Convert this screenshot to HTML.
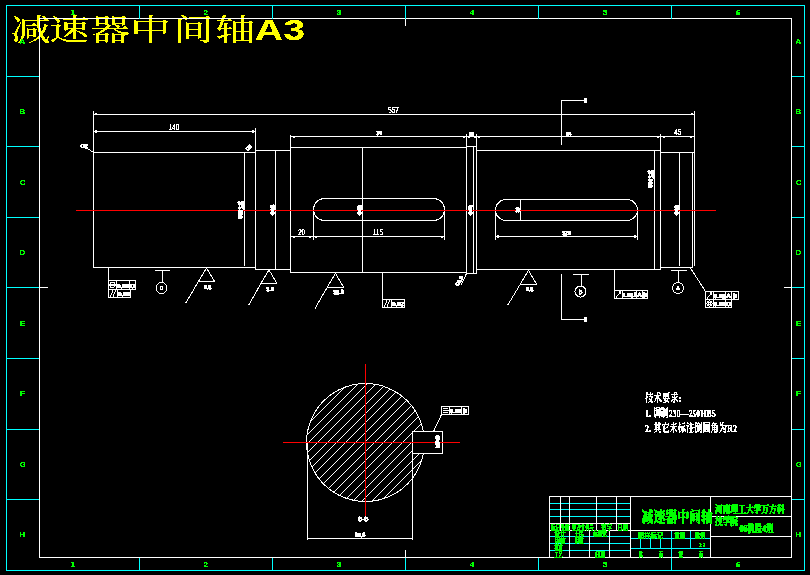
<!DOCTYPE html>
<html lang="zh"><head><meta charset="utf-8"><title>减速器中间轴A3</title>
<style>html,body{margin:0;padding:0;background:#000;width:810px;height:575px;overflow:hidden}svg{display:block}text{white-space:pre}</style>
</head><body>
<svg width="810" height="575" viewBox="0 0 810 575" shape-rendering="crispEdges">
<defs><filter id="crisp" x="-20%" y="-20%" width="140%" height="140%" color-interpolation-filters="sRGB"><feComponentTransfer><feFuncA type="discrete" tableValues="0 0 0 1 1 1 1 1 1 1"/></feComponentTransfer></filter><filter id="crisp5" x="-5%" y="-20%" width="110%" height="140%" color-interpolation-filters="sRGB"><feComponentTransfer><feFuncA type="discrete" tableValues="0 1"/></feComponentTransfer></filter></defs>
<rect width="810" height="575" fill="#000"/>
<g transform="translate(12,39.7) scale(1.335,1)"><text filter="url(#crisp5)" x="13.93 42.85 73.63 103.75 135.96 167.34" y="0" font-size="30" fill="#ffff00" text-anchor="middle" font-weight="500" font-family='"Liberation Serif","Noto Serif CJK SC",serif'>减速器中间轴</text></g>
<g transform="translate(254.8,40) scale(1.30,1)"><text filter="url(#crisp5)" x="0" y="0" font-size="30.3" fill="#ffff00" font-weight="bold" font-family='"Liberation Sans","Noto Sans CJK SC",sans-serif'>A3</text></g>
<rect x="39" y="18" width="753" height="1" fill="#fff"/>
<rect x="39" y="557" width="753" height="1" fill="#fff"/>
<rect x="39" y="18" width="1" height="540" fill="#fff"/>
<rect x="791" y="18" width="1" height="540" fill="#fff"/>
<rect x="405" y="18" width="1" height="8" fill="#fff"/>
<rect x="405" y="550" width="1" height="8" fill="#fff"/>
<rect x="39" y="287" width="9" height="1" fill="#fff"/>
<rect x="784" y="287" width="8" height="1" fill="#fff"/>
<rect x="6" y="5" width="799" height="1" fill="#00ffff"/>
<rect x="6" y="570" width="799" height="1" fill="#00ffff"/>
<rect x="6" y="5" width="1" height="566" fill="#00ffff"/>
<rect x="804" y="5" width="1" height="566" fill="#00ffff"/>
<rect x="139" y="5" width="1" height="14" fill="#00ffff"/>
<rect x="139" y="558" width="1" height="13" fill="#00ffff"/>
<rect x="272" y="5" width="1" height="14" fill="#00ffff"/>
<rect x="272" y="558" width="1" height="13" fill="#00ffff"/>
<rect x="405" y="5" width="1" height="14" fill="#00ffff"/>
<rect x="405" y="558" width="1" height="13" fill="#00ffff"/>
<rect x="538" y="5" width="1" height="14" fill="#00ffff"/>
<rect x="538" y="558" width="1" height="13" fill="#00ffff"/>
<rect x="671" y="5" width="1" height="14" fill="#00ffff"/>
<rect x="671" y="558" width="1" height="13" fill="#00ffff"/>
<rect x="6" y="76" width="33" height="1" fill="#00ffff"/>
<rect x="792" y="76" width="13" height="1" fill="#00ffff"/>
<rect x="6" y="146" width="33" height="1" fill="#00ffff"/>
<rect x="792" y="146" width="13" height="1" fill="#00ffff"/>
<rect x="6" y="217" width="33" height="1" fill="#00ffff"/>
<rect x="792" y="217" width="13" height="1" fill="#00ffff"/>
<rect x="6" y="287" width="33" height="1" fill="#00ffff"/>
<rect x="792" y="287" width="13" height="1" fill="#00ffff"/>
<rect x="6" y="358" width="33" height="1" fill="#00ffff"/>
<rect x="792" y="358" width="13" height="1" fill="#00ffff"/>
<rect x="6" y="429" width="33" height="1" fill="#00ffff"/>
<rect x="792" y="429" width="13" height="1" fill="#00ffff"/>
<rect x="6" y="499" width="33" height="1" fill="#00ffff"/>
<rect x="792" y="499" width="13" height="1" fill="#00ffff"/>
<text filter="url(#crisp)" x="73" y="14.8" font-size="8" fill="#00ff00" text-anchor="middle" font-family='"Liberation Sans","Noto Sans CJK SC",sans-serif' font-weight="bold">1</text>
<text filter="url(#crisp)" x="73" y="566.6" font-size="8" fill="#00ff00" text-anchor="middle" font-family='"Liberation Sans","Noto Sans CJK SC",sans-serif' font-weight="bold">1</text>
<text filter="url(#crisp)" x="206" y="14.8" font-size="8" fill="#00ff00" text-anchor="middle" font-family='"Liberation Sans","Noto Sans CJK SC",sans-serif' font-weight="bold">2</text>
<text filter="url(#crisp)" x="206" y="566.6" font-size="8" fill="#00ff00" text-anchor="middle" font-family='"Liberation Sans","Noto Sans CJK SC",sans-serif' font-weight="bold">2</text>
<text filter="url(#crisp)" x="339" y="14.8" font-size="8" fill="#00ff00" text-anchor="middle" font-family='"Liberation Sans","Noto Sans CJK SC",sans-serif' font-weight="bold">3</text>
<text filter="url(#crisp)" x="339" y="566.6" font-size="8" fill="#00ff00" text-anchor="middle" font-family='"Liberation Sans","Noto Sans CJK SC",sans-serif' font-weight="bold">3</text>
<text filter="url(#crisp)" x="472" y="14.8" font-size="8" fill="#00ff00" text-anchor="middle" font-family='"Liberation Sans","Noto Sans CJK SC",sans-serif' font-weight="bold">4</text>
<text filter="url(#crisp)" x="472" y="566.6" font-size="8" fill="#00ff00" text-anchor="middle" font-family='"Liberation Sans","Noto Sans CJK SC",sans-serif' font-weight="bold">4</text>
<text filter="url(#crisp)" x="605" y="14.8" font-size="8" fill="#00ff00" text-anchor="middle" font-family='"Liberation Sans","Noto Sans CJK SC",sans-serif' font-weight="bold">5</text>
<text filter="url(#crisp)" x="605" y="566.6" font-size="8" fill="#00ff00" text-anchor="middle" font-family='"Liberation Sans","Noto Sans CJK SC",sans-serif' font-weight="bold">5</text>
<text filter="url(#crisp)" x="738" y="14.8" font-size="8" fill="#00ff00" text-anchor="middle" font-family='"Liberation Sans","Noto Sans CJK SC",sans-serif' font-weight="bold">6</text>
<text filter="url(#crisp)" x="738" y="566.6" font-size="8" fill="#00ff00" text-anchor="middle" font-family='"Liberation Sans","Noto Sans CJK SC",sans-serif' font-weight="bold">6</text>
<text filter="url(#crisp)" x="22.5" y="43.5" font-size="8" fill="#00ff00" text-anchor="middle" font-family='"Liberation Sans","Noto Sans CJK SC",sans-serif' font-weight="bold">A</text>
<text filter="url(#crisp)" x="798.5" y="43.5" font-size="8" fill="#00ff00" text-anchor="middle" font-family='"Liberation Sans","Noto Sans CJK SC",sans-serif' font-weight="bold">A</text>
<text filter="url(#crisp)" x="22.5" y="114.07" font-size="8" fill="#00ff00" text-anchor="middle" font-family='"Liberation Sans","Noto Sans CJK SC",sans-serif' font-weight="bold">B</text>
<text filter="url(#crisp)" x="798.5" y="114.07" font-size="8" fill="#00ff00" text-anchor="middle" font-family='"Liberation Sans","Noto Sans CJK SC",sans-serif' font-weight="bold">B</text>
<text filter="url(#crisp)" x="22.5" y="184.64" font-size="8" fill="#00ff00" text-anchor="middle" font-family='"Liberation Sans","Noto Sans CJK SC",sans-serif' font-weight="bold">C</text>
<text filter="url(#crisp)" x="798.5" y="184.64" font-size="8" fill="#00ff00" text-anchor="middle" font-family='"Liberation Sans","Noto Sans CJK SC",sans-serif' font-weight="bold">C</text>
<text filter="url(#crisp)" x="22.5" y="255.21" font-size="8" fill="#00ff00" text-anchor="middle" font-family='"Liberation Sans","Noto Sans CJK SC",sans-serif' font-weight="bold">D</text>
<text filter="url(#crisp)" x="798.5" y="255.21" font-size="8" fill="#00ff00" text-anchor="middle" font-family='"Liberation Sans","Noto Sans CJK SC",sans-serif' font-weight="bold">D</text>
<text filter="url(#crisp)" x="22.5" y="325.78" font-size="8" fill="#00ff00" text-anchor="middle" font-family='"Liberation Sans","Noto Sans CJK SC",sans-serif' font-weight="bold">E</text>
<text filter="url(#crisp)" x="798.5" y="325.78" font-size="8" fill="#00ff00" text-anchor="middle" font-family='"Liberation Sans","Noto Sans CJK SC",sans-serif' font-weight="bold">E</text>
<text filter="url(#crisp)" x="22.5" y="396.35" font-size="8" fill="#00ff00" text-anchor="middle" font-family='"Liberation Sans","Noto Sans CJK SC",sans-serif' font-weight="bold">F</text>
<text filter="url(#crisp)" x="798.5" y="396.35" font-size="8" fill="#00ff00" text-anchor="middle" font-family='"Liberation Sans","Noto Sans CJK SC",sans-serif' font-weight="bold">F</text>
<text filter="url(#crisp)" x="22.5" y="466.92" font-size="8" fill="#00ff00" text-anchor="middle" font-family='"Liberation Sans","Noto Sans CJK SC",sans-serif' font-weight="bold">G</text>
<text filter="url(#crisp)" x="798.5" y="466.92" font-size="8" fill="#00ff00" text-anchor="middle" font-family='"Liberation Sans","Noto Sans CJK SC",sans-serif' font-weight="bold">G</text>
<text filter="url(#crisp)" x="22.5" y="537.49" font-size="8" fill="#00ff00" text-anchor="middle" font-family='"Liberation Sans","Noto Sans CJK SC",sans-serif' font-weight="bold">H</text>
<text filter="url(#crisp)" x="798.5" y="537.49" font-size="8" fill="#00ff00" text-anchor="middle" font-family='"Liberation Sans","Noto Sans CJK SC",sans-serif' font-weight="bold">H</text>
<rect x="93" y="152" width="163" height="1" fill="#fff"/>
<rect x="93" y="267" width="163" height="1" fill="#fff"/>
<rect x="93" y="111" width="1" height="157" fill="#fff"/>
<rect x="255" y="128" width="1" height="142" fill="#fff"/>
<rect x="255" y="150" width="36" height="1" fill="#fff"/>
<rect x="255" y="269" width="36" height="1" fill="#fff"/>
<rect x="290" y="135" width="1" height="138" fill="#fff"/>
<rect x="290" y="147" width="177" height="1" fill="#fff"/>
<rect x="290" y="272" width="177" height="1" fill="#fff"/>
<rect x="466" y="134" width="1" height="140" fill="#fff"/>
<rect x="473" y="146" width="1" height="128" fill="#fff"/>
<rect x="476" y="134" width="1" height="140" fill="#fff"/>
<rect x="466" y="146" width="11" height="1" fill="#fff"/>
<rect x="466" y="273" width="11" height="1" fill="#fff"/>
<rect x="476" y="150" width="185" height="1" fill="#fff"/>
<rect x="476" y="269" width="185" height="1" fill="#fff"/>
<rect x="660" y="134" width="1" height="136" fill="#fff"/>
<rect x="660" y="152" width="35" height="1" fill="#fff"/>
<rect x="660" y="267" width="33" height="1" fill="#fff"/>
<rect x="694" y="111" width="1" height="155" fill="#fff"/>
<rect x="692" y="152" width="1" height="116" fill="#fff"/>
<rect x="244" y="153" width="1" height="113" fill="#fff"/>
<rect x="275" y="150" width="1" height="120" fill="#fff"/>
<rect x="362" y="147" width="1" height="126" fill="#fff"/>
<rect x="654" y="150" width="1" height="120" fill="#fff"/>
<rect x="679" y="153" width="1" height="113" fill="#fff"/>
<rect x="93" y="114" width="602" height="1" fill="#fff"/>
<rect x="93" y="131" width="163" height="1" fill="#fff"/>
<rect x="290" y="136" width="405" height="1" fill="#fff"/>
<path d="M324.5 198.5 H433.5 A11 11 0 0 1 433.5 220.5 H324.5 A11 11 0 0 1 324.5 198.5 Z" fill="none" stroke="#fff" stroke-width="1" shape-rendering="crispEdges"/>
<path d="M506 199.5 H627 A10.5 10.5 0 0 1 627 220.5 H506 A10.5 10.5 0 0 1 506 199.5 Z" fill="none" stroke="#fff" stroke-width="1" shape-rendering="crispEdges"/>
<rect x="313" y="210" width="1" height="30" fill="#fff"/>
<rect x="444" y="210" width="1" height="30" fill="#fff"/>
<rect x="290" y="236" width="155" height="1" fill="#fff"/>
<rect x="495" y="210" width="1" height="30" fill="#fff"/>
<rect x="637" y="210" width="1" height="30" fill="#fff"/>
<rect x="495" y="236" width="143" height="1" fill="#fff"/>
<rect x="520" y="199" width="1" height="22" fill="#fff"/>
<rect x="95" y="130" width="2" height="3" fill="#fff"/>
<rect x="252" y="130" width="2" height="3" fill="#fff"/>
<rect x="95" y="113" width="2" height="1" fill="#fff"/>
<rect x="691" y="113" width="2" height="1" fill="#fff"/>
<rect x="293" y="137" width="2" height="1" fill="#fff"/>
<rect x="463" y="137" width="2" height="1" fill="#fff"/>
<rect x="468" y="137" width="2" height="1" fill="#fff"/>
<rect x="474" y="137" width="2" height="1" fill="#fff"/>
<rect x="478" y="137" width="2" height="1" fill="#fff"/>
<rect x="657" y="137" width="2" height="1" fill="#fff"/>
<rect x="663" y="137" width="2" height="1" fill="#fff"/>
<rect x="690" y="137" width="2" height="1" fill="#fff"/>
<rect x="293" y="237" width="2" height="1" fill="#fff"/>
<rect x="309" y="237" width="2" height="1" fill="#fff"/>
<rect x="315" y="237" width="2" height="1" fill="#fff"/>
<rect x="441" y="237" width="2" height="1" fill="#fff"/>
<rect x="497" y="235" width="2" height="3" fill="#fff"/>
<rect x="634" y="235" width="2" height="3" fill="#fff"/>
<rect x="76" y="210" width="640" height="1" fill="#ff0000"/>
<text filter="url(#crisp)" x="174" y="130" font-size="8.8" fill="#fff" text-anchor="middle" font-family='"Liberation Sans","Noto Sans CJK SC",sans-serif' font-weight="normal" textLength="10.2" lengthAdjust="spacingAndGlyphs">140</text>
<text filter="url(#crisp)" x="393.5" y="113" font-size="8.8" fill="#fff" text-anchor="middle" font-family='"Liberation Sans","Noto Sans CJK SC",sans-serif' font-weight="normal" textLength="10.5" lengthAdjust="spacingAndGlyphs">557</text>
<text filter="url(#crisp)" x="677.8" y="135" font-size="8.8" fill="#fff" text-anchor="middle" font-family='"Liberation Sans","Noto Sans CJK SC",sans-serif' font-weight="normal" textLength="7.2" lengthAdjust="spacingAndGlyphs">45</text>
<text filter="url(#crisp)" x="301.6" y="235.2" font-size="8.3" fill="#fff" text-anchor="middle" font-family='"Liberation Sans","Noto Sans CJK SC",sans-serif' font-weight="normal" textLength="7.2" lengthAdjust="spacingAndGlyphs">20</text>
<text filter="url(#crisp)" x="378" y="235.2" font-size="8.3" fill="#fff" text-anchor="middle" font-family='"Liberation Sans","Noto Sans CJK SC",sans-serif' font-weight="normal" textLength="10.2" lengthAdjust="spacingAndGlyphs">115</text>
<text filter="url(#crisp)" x="566.5" y="234.5" font-size="5" fill="#fff" text-anchor="middle" font-family='"Liberation Sans","Noto Sans CJK SC",sans-serif' font-weight="bold" stroke="#fff" stroke-width="0.3">120</text>
<text filter="url(#crisp)" x="379" y="135" font-size="5" fill="#fff" text-anchor="middle" font-family='"Liberation Sans","Noto Sans CJK SC",sans-serif' font-weight="bold" textLength="5.5" lengthAdjust="spacingAndGlyphs" stroke="#fff" stroke-width="0.3">176</text>
<text filter="url(#crisp)" x="568.5" y="135.8" font-size="5" fill="#fff" text-anchor="middle" font-family='"Liberation Sans","Noto Sans CJK SC",sans-serif' font-weight="bold" textLength="5.5" lengthAdjust="spacingAndGlyphs" stroke="#fff" stroke-width="0.3">184</text>
<text filter="url(#crisp)" x="471.5" y="135.5" font-size="5" fill="#fff" text-anchor="middle" font-family='"Liberation Sans","Noto Sans CJK SC",sans-serif' font-weight="bold" stroke="#fff" stroke-width="0.3">10</text>
<text filter="url(#crisp)" x="243" y="219" font-size="6.5" fill="#fff" text-anchor="start" font-family='"Liberation Sans","Noto Sans CJK SC",sans-serif' font-weight="bold" transform="rotate(-90 243 219)" textLength="9" lengthAdjust="spacingAndGlyphs" stroke="#fff" stroke-width="0.15">Φ55</text>
<text filter="url(#crisp)" x="240" y="209.5" font-size="4.2" fill="#fff" text-anchor="start" font-family='"Liberation Sans","Noto Sans CJK SC",sans-serif' font-weight="bold" transform="rotate(-90 240 209.5)" textLength="8.5" lengthAdjust="spacingAndGlyphs" stroke="#fff" stroke-width="0.1">+0.021</text>
<text filter="url(#crisp)" x="243.6" y="209.5" font-size="4.2" fill="#fff" text-anchor="start" font-family='"Liberation Sans","Noto Sans CJK SC",sans-serif' font-weight="bold" transform="rotate(-90 243.6 209.5)" textLength="8.5" lengthAdjust="spacingAndGlyphs" stroke="#fff" stroke-width="0.1">+0.002</text>
<text filter="url(#crisp)" x="274.5" y="210" font-size="5.5" fill="#fff" text-anchor="middle" font-family='"Liberation Sans","Noto Sans CJK SC",sans-serif' font-weight="bold" transform="rotate(-90 274.5 210)" stroke="#fff" stroke-width="0.15">Φ58</text>
<text filter="url(#crisp)" x="361.5" y="210" font-size="5.5" fill="#fff" text-anchor="middle" font-family='"Liberation Sans","Noto Sans CJK SC",sans-serif' font-weight="bold" transform="rotate(-90 361.5 210)" stroke="#fff" stroke-width="0.15">Φ65</text>
<text filter="url(#crisp)" x="472.5" y="210" font-size="5.5" fill="#fff" text-anchor="middle" font-family='"Liberation Sans","Noto Sans CJK SC",sans-serif' font-weight="bold" transform="rotate(-90 472.5 210)" stroke="#fff" stroke-width="0.15">Φ75</text>
<text filter="url(#crisp)" x="519.5" y="210" font-size="5.5" fill="#fff" text-anchor="middle" font-family='"Liberation Sans","Noto Sans CJK SC",sans-serif' font-weight="bold" transform="rotate(-90 519.5 210)" stroke="#fff" stroke-width="0.15">18</text>
<text filter="url(#crisp)" x="653" y="188" font-size="6.5" fill="#fff" text-anchor="start" font-family='"Liberation Sans","Noto Sans CJK SC",sans-serif' font-weight="bold" transform="rotate(-90 653 188)" textLength="9" lengthAdjust="spacingAndGlyphs" stroke="#fff" stroke-width="0.15">Φ60</text>
<text filter="url(#crisp)" x="650" y="178.5" font-size="4.2" fill="#fff" text-anchor="start" font-family='"Liberation Sans","Noto Sans CJK SC",sans-serif' font-weight="bold" transform="rotate(-90 650 178.5)" textLength="8.5" lengthAdjust="spacingAndGlyphs" stroke="#fff" stroke-width="0.1">+0.021</text>
<text filter="url(#crisp)" x="653.6" y="178.5" font-size="4.2" fill="#fff" text-anchor="start" font-family='"Liberation Sans","Noto Sans CJK SC",sans-serif' font-weight="bold" transform="rotate(-90 653.6 178.5)" textLength="8.5" lengthAdjust="spacingAndGlyphs" stroke="#fff" stroke-width="0.1">+0.002</text>
<text filter="url(#crisp)" x="678.5" y="210" font-size="5.5" fill="#fff" text-anchor="middle" font-family='"Liberation Sans","Noto Sans CJK SC",sans-serif' font-weight="bold" transform="rotate(-90 678.5 210)" stroke="#fff" stroke-width="0.15">Φ55</text>
<text filter="url(#crisp)" x="84" y="148" font-size="5.5" fill="#fff" text-anchor="middle" font-family='"Liberation Sans","Noto Sans CJK SC",sans-serif' font-weight="bold" stroke="#fff" stroke-width="0.4">C2</text>
<line x1="86" y1="147.5" x2="93.5" y2="152.5" stroke="#fff" stroke-width="1" shape-rendering="crispEdges"/>
<text filter="url(#crisp)" x="250" y="149" font-size="5" fill="#fff" text-anchor="middle" font-family='"Liberation Sans","Noto Sans CJK SC",sans-serif' font-weight="bold" transform="rotate(-45 250 149)" stroke="#fff" stroke-width="0.3">C2</text>
<text filter="url(#crisp)" x="461" y="282" font-size="5" fill="#fff" text-anchor="middle" font-family='"Liberation Sans","Noto Sans CJK SC",sans-serif' font-weight="bold" transform="rotate(-60 461 282)" stroke="#fff" stroke-width="0.3">C1.5</text>
<line x1="466.5" y1="273.5" x2="461" y2="285" stroke="#fff" stroke-width="1" shape-rendering="crispEdges"/>
<rect x="561" y="100" width="25" height="1" fill="#fff"/>
<rect x="561" y="100" width="1" height="45" fill="#fff"/>
<rect x="584" y="98" width="3" height="5" fill="#fff"/>
<rect x="561" y="274" width="1" height="46" fill="#fff"/>
<rect x="561" y="319" width="25" height="1" fill="#fff"/>
<rect x="584" y="317" width="3" height="5" fill="#fff"/>
<line x1="206.5" y1="268" x2="198.4" y2="281.5" stroke="#fff" stroke-width="1" shape-rendering="crispEdges"/>
<line x1="206.5" y1="268" x2="214.6" y2="281.5" stroke="#fff" stroke-width="1" shape-rendering="crispEdges"/>
<line x1="198.4" y1="281.5" x2="214.6" y2="281.5" stroke="#fff" stroke-width="1" shape-rendering="crispEdges"/>
<line x1="198.4" y1="281.5" x2="185.5" y2="303.5" stroke="#fff" stroke-width="1" shape-rendering="crispEdges"/>
<text filter="url(#crisp)" x="207.5" y="288.5" font-size="5.5" fill="#fff" text-anchor="middle" font-family='"Liberation Sans","Noto Sans CJK SC",sans-serif' font-weight="bold" stroke="#fff" stroke-width="0.4">3.2</text>
<line x1="269" y1="270" x2="260.9" y2="283.5" stroke="#fff" stroke-width="1" shape-rendering="crispEdges"/>
<line x1="269" y1="270" x2="277.1" y2="283.5" stroke="#fff" stroke-width="1" shape-rendering="crispEdges"/>
<line x1="260.9" y1="283.5" x2="277.1" y2="283.5" stroke="#fff" stroke-width="1" shape-rendering="crispEdges"/>
<line x1="260.9" y1="283.5" x2="248.5" y2="305.5" stroke="#fff" stroke-width="1" shape-rendering="crispEdges"/>
<text filter="url(#crisp)" x="270" y="291" font-size="5.5" fill="#fff" text-anchor="middle" font-family='"Liberation Sans","Noto Sans CJK SC",sans-serif' font-weight="bold" stroke="#fff" stroke-width="0.4">1.6</text>
<line x1="335.5" y1="273.5" x2="327.4" y2="287" stroke="#fff" stroke-width="1" shape-rendering="crispEdges"/>
<line x1="335.5" y1="273.5" x2="343.6" y2="287" stroke="#fff" stroke-width="1" shape-rendering="crispEdges"/>
<line x1="327.4" y1="287" x2="343.6" y2="287" stroke="#fff" stroke-width="1" shape-rendering="crispEdges"/>
<line x1="327.4" y1="287" x2="315" y2="308.5" stroke="#fff" stroke-width="1" shape-rendering="crispEdges"/>
<text filter="url(#crisp)" x="338.5" y="294" font-size="5.5" fill="#fff" text-anchor="middle" font-family='"Liberation Sans","Noto Sans CJK SC",sans-serif' font-weight="bold" stroke="#fff" stroke-width="0.4">12.5</text>
<line x1="528.5" y1="270.5" x2="520.4" y2="284" stroke="#fff" stroke-width="1" shape-rendering="crispEdges"/>
<line x1="528.5" y1="270.5" x2="536.6" y2="284" stroke="#fff" stroke-width="1" shape-rendering="crispEdges"/>
<line x1="520.4" y1="284" x2="536.6" y2="284" stroke="#fff" stroke-width="1" shape-rendering="crispEdges"/>
<line x1="520.4" y1="284" x2="507.5" y2="305.5" stroke="#fff" stroke-width="1" shape-rendering="crispEdges"/>
<text filter="url(#crisp)" x="529.5" y="291" font-size="5.5" fill="#fff" text-anchor="middle" font-family='"Liberation Sans","Noto Sans CJK SC",sans-serif' font-weight="bold" stroke="#fff" stroke-width="0.4">3.2</text>
<rect x="155" y="270" width="15" height="1" fill="#fff"/>
<rect x="162" y="270" width="1" height="13" fill="#fff"/>
<circle cx="161.5" cy="288" r="5.5" fill="none" stroke="#fff" stroke-width="1" shape-rendering="crispEdges"/>
<text filter="url(#crisp)" x="161.5" y="290" font-size="5" fill="#fff" text-anchor="middle" font-family='"Liberation Sans","Noto Sans CJK SC",sans-serif' font-weight="bold" stroke="#fff" stroke-width="0.3">C</text>
<rect x="573" y="274" width="16" height="1" fill="#fff"/>
<rect x="581" y="274" width="1" height="12" fill="#fff"/>
<circle cx="580.5" cy="291.5" r="5.5" fill="none" stroke="#fff" stroke-width="1" shape-rendering="crispEdges"/>
<text filter="url(#crisp)" x="580.5" y="293.5" font-size="5" fill="#fff" text-anchor="middle" font-family='"Liberation Sans","Noto Sans CJK SC",sans-serif' font-weight="bold" stroke="#fff" stroke-width="0.3">B</text>
<rect x="671" y="270" width="16" height="1" fill="#fff"/>
<rect x="678" y="270" width="1" height="13" fill="#fff"/>
<circle cx="678" cy="288" r="5.5" fill="none" stroke="#fff" stroke-width="1" shape-rendering="crispEdges"/>
<text filter="url(#crisp)" x="678" y="290" font-size="5" fill="#fff" text-anchor="middle" font-family='"Liberation Sans","Noto Sans CJK SC",sans-serif' font-weight="bold" stroke="#fff" stroke-width="0.3">A</text>
<rect x="108" y="267" width="1" height="31" fill="#fff"/>
<rect x="108" y="280" width="28" height="1" fill="#fff"/>
<rect x="108" y="289" width="28" height="1" fill="#fff"/>
<rect x="108" y="280" width="1" height="10" fill="#fff"/>
<rect x="135" y="280" width="1" height="10" fill="#fff"/>
<rect x="116" y="280" width="1" height="9" fill="#fff"/>
<rect x="129" y="280" width="1" height="9" fill="#fff"/>
<circle cx="112.5" cy="285.0" r="2.6" stroke="#fff" stroke-width="1" fill="none" shape-rendering="crispEdges"/><circle cx="112.5" cy="285.0" r="1" stroke="#fff" stroke-width="1" fill="none" shape-rendering="crispEdges"/>
<text filter="url(#crisp)" x="123" y="287.6" font-size="6.2" fill="#fff" text-anchor="middle" font-family='"Liberation Sans","Noto Sans CJK SC",sans-serif' font-weight="bold" stroke="#fff" stroke-width="0.5">0.03</text>
<text filter="url(#crisp)" x="132.5" y="287.6" font-size="6.2" fill="#fff" text-anchor="middle" font-family='"Liberation Sans","Noto Sans CJK SC",sans-serif' font-weight="bold" stroke="#fff" stroke-width="0.5">C</text>
<rect x="108" y="289" width="23" height="1" fill="#fff"/>
<rect x="108" y="297" width="23" height="1" fill="#fff"/>
<rect x="108" y="289" width="1" height="9" fill="#fff"/>
<rect x="130" y="289" width="1" height="9" fill="#fff"/>
<rect x="117" y="289" width="1" height="8" fill="#fff"/>
<path d="M110.2 296.5 L113.0 290.5 M113.0 296.5 L115.8 290.5" stroke="#fff" stroke-width="1" fill="none" shape-rendering="crispEdges"/>
<text filter="url(#crisp)" x="124" y="295.6" font-size="6.2" fill="#fff" text-anchor="middle" font-family='"Liberation Sans","Noto Sans CJK SC",sans-serif' font-weight="bold" stroke="#fff" stroke-width="0.5">0.03</text>
<rect x="382" y="272" width="1" height="36" fill="#fff"/>
<rect x="382" y="299" width="23" height="1" fill="#fff"/>
<rect x="382" y="307" width="23" height="1" fill="#fff"/>
<rect x="382" y="299" width="1" height="9" fill="#fff"/>
<rect x="404" y="299" width="1" height="9" fill="#fff"/>
<rect x="391" y="299" width="1" height="8" fill="#fff"/>
<path d="M384.2 306.5 L387.0 300.5 M387.0 306.5 L389.8 300.5" stroke="#fff" stroke-width="1" fill="none" shape-rendering="crispEdges"/>
<text filter="url(#crisp)" x="398" y="305.6" font-size="6.2" fill="#fff" text-anchor="middle" font-family='"Liberation Sans","Noto Sans CJK SC",sans-serif' font-weight="bold" stroke="#fff" stroke-width="0.5">0.02</text>
<rect x="614" y="269" width="1" height="30" fill="#fff"/>
<rect x="614" y="290" width="34" height="1" fill="#fff"/>
<rect x="614" y="298" width="34" height="1" fill="#fff"/>
<rect x="614" y="290" width="1" height="9" fill="#fff"/>
<rect x="647" y="290" width="1" height="9" fill="#fff"/>
<rect x="622" y="290" width="1" height="8" fill="#fff"/>
<rect x="636" y="290" width="1" height="8" fill="#fff"/>
<rect x="642" y="290" width="1" height="8" fill="#fff"/>
<path d="M616.0 297.5 L621.0 291.5 M621.0 291.5 l-2.4 0.6 M621.0 291.5 l-0.4 2.4" stroke="#fff" stroke-width="1" fill="none" shape-rendering="crispEdges"/>
<text filter="url(#crisp)" x="629.5" y="296.6" font-size="6.2" fill="#fff" text-anchor="middle" font-family='"Liberation Sans","Noto Sans CJK SC",sans-serif' font-weight="bold" stroke="#fff" stroke-width="0.5">0.015</text>
<text filter="url(#crisp)" x="639.5" y="296.6" font-size="6.2" fill="#fff" text-anchor="middle" font-family='"Liberation Sans","Noto Sans CJK SC",sans-serif' font-weight="bold" stroke="#fff" stroke-width="0.5">A</text>
<text filter="url(#crisp)" x="645" y="296.6" font-size="6.2" fill="#fff" text-anchor="middle" font-family='"Liberation Sans","Noto Sans CJK SC",sans-serif' font-weight="bold" stroke="#fff" stroke-width="0.5">B</text>
<line x1="690.5" y1="268" x2="705.5" y2="291.5" stroke="#fff" stroke-width="1" shape-rendering="crispEdges"/>
<rect x="705" y="291" width="34" height="1" fill="#fff"/>
<rect x="705" y="299" width="34" height="1" fill="#fff"/>
<rect x="705" y="291" width="1" height="9" fill="#fff"/>
<rect x="738" y="291" width="1" height="9" fill="#fff"/>
<rect x="713" y="291" width="1" height="8" fill="#fff"/>
<rect x="725" y="291" width="1" height="8" fill="#fff"/>
<rect x="731" y="291" width="1" height="8" fill="#fff"/>
<path d="M707.0 298.5 L712.0 292.5 M712.0 292.5 l-2.4 0.6 M712.0 292.5 l-0.4 2.4" stroke="#fff" stroke-width="1" fill="none" shape-rendering="crispEdges"/>
<text filter="url(#crisp)" x="719.5" y="297.6" font-size="6.2" fill="#fff" text-anchor="middle" font-family='"Liberation Sans","Noto Sans CJK SC",sans-serif' font-weight="bold" stroke="#fff" stroke-width="0.5">0.02</text>
<text filter="url(#crisp)" x="728.5" y="297.6" font-size="6.2" fill="#fff" text-anchor="middle" font-family='"Liberation Sans","Noto Sans CJK SC",sans-serif' font-weight="bold" stroke="#fff" stroke-width="0.5">A</text>
<text filter="url(#crisp)" x="735" y="297.6" font-size="6.2" fill="#fff" text-anchor="middle" font-family='"Liberation Sans","Noto Sans CJK SC",sans-serif' font-weight="bold" stroke="#fff" stroke-width="0.5">B</text>
<rect x="705" y="299" width="27" height="1" fill="#fff"/>
<rect x="705" y="307" width="27" height="1" fill="#fff"/>
<rect x="705" y="299" width="1" height="9" fill="#fff"/>
<rect x="731" y="299" width="1" height="9" fill="#fff"/>
<rect x="713" y="299" width="1" height="8" fill="#fff"/>
<rect x="725" y="299" width="1" height="8" fill="#fff"/>
<circle cx="709.5" cy="303.5" r="2.6" stroke="#fff" stroke-width="1" fill="none" shape-rendering="crispEdges"/><circle cx="709.5" cy="303.5" r="1" stroke="#fff" stroke-width="1" fill="none" shape-rendering="crispEdges"/>
<text filter="url(#crisp)" x="719.5" y="305.6" font-size="6.2" fill="#fff" text-anchor="middle" font-family='"Liberation Sans","Noto Sans CJK SC",sans-serif' font-weight="bold" stroke="#fff" stroke-width="0.5">0.03</text>
<text filter="url(#crisp)" x="728.5" y="305.6" font-size="6.2" fill="#fff" text-anchor="middle" font-family='"Liberation Sans","Noto Sans CJK SC",sans-serif' font-weight="bold" stroke="#fff" stroke-width="0.5">C</text>
<rect x="441" y="406" width="28" height="1" fill="#fff"/>
<rect x="441" y="414" width="28" height="1" fill="#fff"/>
<rect x="441" y="406" width="1" height="9" fill="#fff"/>
<rect x="468" y="406" width="1" height="9" fill="#fff"/>
<rect x="449" y="406" width="1" height="8" fill="#fff"/>
<rect x="461" y="406" width="1" height="8" fill="#fff"/>
<path d="M443.0 408.5 h5 M442.5 410.5 h6 M443.0 412.5 h5" stroke="#fff" stroke-width="1" fill="none" shape-rendering="crispEdges"/>
<text filter="url(#crisp)" x="455.5" y="412.6" font-size="6.2" fill="#fff" text-anchor="middle" font-family='"Liberation Sans","Noto Sans CJK SC",sans-serif' font-weight="bold" stroke="#fff" stroke-width="0.5">0.03</text>
<text filter="url(#crisp)" x="465" y="412.6" font-size="6.2" fill="#fff" text-anchor="middle" font-family='"Liberation Sans","Noto Sans CJK SC",sans-serif' font-weight="bold" stroke="#fff" stroke-width="0.5">D</text>
<line x1="441.5" y1="414.5" x2="433.5" y2="431.5" stroke="#fff" stroke-width="1" shape-rendering="crispEdges"/>
<clipPath id="cc"><circle cx="365.5" cy="442.5" r="59"/></clipPath>
<g clip-path="url(#cc)" stroke="#fff" stroke-width="1" shape-rendering="crispEdges">
<line x1="395" y1="300" x2="175" y2="520"/>
<line x1="404" y1="300" x2="184" y2="520"/>
<line x1="413" y1="300" x2="193" y2="520"/>
<line x1="423" y1="300" x2="203" y2="520"/>
<line x1="432" y1="300" x2="212" y2="520"/>
<line x1="442" y1="300" x2="222" y2="520"/>
<line x1="451" y1="300" x2="231" y2="520"/>
<line x1="460" y1="300" x2="240" y2="520"/>
<line x1="470" y1="300" x2="250" y2="520"/>
<line x1="479" y1="300" x2="259" y2="520"/>
<line x1="488" y1="300" x2="268" y2="520"/>
<line x1="498" y1="300" x2="278" y2="520"/>
<line x1="507" y1="300" x2="287" y2="520"/>
<line x1="517" y1="300" x2="297" y2="520"/>
<line x1="526" y1="300" x2="306" y2="520"/>
<line x1="535" y1="300" x2="315" y2="520"/>
<line x1="545" y1="300" x2="325" y2="520"/>
<line x1="554" y1="300" x2="334" y2="520"/>
<line x1="563" y1="300" x2="343" y2="520"/>
<line x1="573" y1="300" x2="353" y2="520"/>
<line x1="582" y1="300" x2="362" y2="520"/>
<line x1="592" y1="300" x2="372" y2="520"/>
<line x1="601" y1="300" x2="381" y2="520"/>
<line x1="610" y1="300" x2="390" y2="520"/>
<line x1="620" y1="300" x2="400" y2="520"/>
</g>
<rect x="412.5" y="431.5" width="20" height="22" fill="#000"/>
<path d="M423.466 453.5 A59 59 0 1 1 423.466 431.5" fill="none" stroke="#fff" stroke-width="1" shape-rendering="crispEdges"/>
<rect x="412" y="431" width="31" height="1" fill="#fff"/>
<rect x="412" y="453" width="31" height="1" fill="#fff"/>
<rect x="412" y="431" width="1" height="109" fill="#fff"/>
<rect x="442" y="431" width="1" height="23" fill="#fff"/>
<rect x="307" y="442" width="1" height="98" fill="#fff"/>
<rect x="307" y="538" width="106" height="1" fill="#fff"/>
<rect x="283" y="442" width="177" height="1" fill="#ff0000"/>
<rect x="365" y="364" width="1" height="153" fill="#ff0000"/>
<text filter="url(#crisp)" x="439.5" y="442" font-size="5.5" fill="#fff" text-anchor="middle" font-family='"Liberation Sans","Noto Sans CJK SC",sans-serif' font-weight="bold" transform="rotate(-90 439.5 442)" stroke="#fff" stroke-width="0.15">16N9</text>
<text filter="url(#crisp)" x="363.5" y="520.5" font-size="5.5" fill="#fff" text-anchor="middle" font-family='"Liberation Sans","Noto Sans CJK SC",sans-serif' font-weight="bold" stroke="#fff" stroke-width="0.4">B-B</text>
<text filter="url(#crisp)" x="360" y="537" font-size="5.5" fill="#fff" text-anchor="middle" font-family='"Liberation Sans","Noto Sans CJK SC",sans-serif' font-weight="bold" stroke="#fff" stroke-width="0.4">58.5</text>
<text filter="url(#crisp)" x="645" y="402.2" font-size="10.8" fill="#fff" text-anchor="start" font-family='"Liberation Serif","Noto Serif CJK SC",serif' font-weight="bold" textLength="36.5" lengthAdjust="spacingAndGlyphs">技术要求:</text>
<text filter="url(#crisp)" x="645" y="417.2" font-size="10.8" fill="#fff" text-anchor="start" font-family='"Liberation Serif","Noto Serif CJK SC",serif' font-weight="bold" textLength="71" lengthAdjust="spacingAndGlyphs">1. 调制230—250HBS</text>
<text filter="url(#crisp)" x="645" y="432.2" font-size="10.8" fill="#fff" text-anchor="start" font-family='"Liberation Serif","Noto Serif CJK SC",serif' font-weight="bold" textLength="92" lengthAdjust="spacingAndGlyphs">2. 其它未标注倒圆角为R2</text>
<rect x="550" y="503" width="80" height="1" fill="#00ffff"/>
<rect x="550" y="509" width="80" height="1" fill="#00ffff"/>
<rect x="550" y="516" width="80" height="1" fill="#00ffff"/>
<rect x="550" y="536" width="80" height="1" fill="#00ffff"/>
<rect x="550" y="543" width="80" height="1" fill="#00ffff"/>
<rect x="550" y="550" width="80" height="1" fill="#00ffff"/>
<rect x="631" y="538" width="79" height="1" fill="#00ffff"/>
<rect x="631" y="548" width="79" height="1" fill="#00ffff"/>
<rect x="640" y="538" width="1" height="11" fill="#00ffff"/>
<rect x="650" y="538" width="1" height="11" fill="#00ffff"/>
<rect x="660" y="538" width="1" height="11" fill="#00ffff"/>
<rect x="671" y="531" width="1" height="26" fill="#00ffff"/>
<rect x="690" y="531" width="1" height="18" fill="#00ffff"/>
<rect x="549" y="496" width="243" height="1" fill="#fff"/>
<rect x="549" y="557" width="243" height="1" fill="#fff"/>
<rect x="549" y="496" width="1" height="62" fill="#fff"/>
<rect x="791" y="496" width="1" height="62" fill="#fff"/>
<rect x="560" y="496" width="1" height="35" fill="#fff"/>
<rect x="569" y="496" width="1" height="35" fill="#fff"/>
<rect x="596" y="496" width="1" height="35" fill="#fff"/>
<rect x="616" y="496" width="1" height="35" fill="#fff"/>
<rect x="630" y="496" width="1" height="62" fill="#fff"/>
<rect x="549" y="523" width="82" height="1" fill="#fff"/>
<rect x="549" y="530" width="162" height="1" fill="#fff"/>
<rect x="569" y="530" width="1" height="28" fill="#fff"/>
<rect x="589" y="530" width="1" height="28" fill="#fff"/>
<rect x="609" y="530" width="1" height="28" fill="#fff"/>
<rect x="710" y="496" width="1" height="62" fill="#fff"/>
<rect x="710" y="516" width="82" height="1" fill="#fff"/>
<rect x="710" y="536" width="82" height="1" fill="#fff"/>
<text filter="url(#crisp)" x="641.5" y="522" font-size="15" fill="#00ff00" text-anchor="start" font-family='"Liberation Serif","Noto Serif CJK SC",serif' font-weight="bold" textLength="71.5" lengthAdjust="spacingAndGlyphs" stroke="#00ff00" stroke-width="0.3">减速器中间轴</text>
<text filter="url(#crisp)" x="715" y="512.5" font-size="10" fill="#00ff00" text-anchor="start" font-family='"Liberation Serif","Noto Serif CJK SC",serif' font-weight="bold" textLength="69.5" lengthAdjust="spacingAndGlyphs" stroke="#00ff00" stroke-width="0.3">河南理工大学万方科</text>
<text filter="url(#crisp)" x="715" y="524.5" font-size="10" fill="#00ff00" text-anchor="start" font-family='"Liberation Serif","Noto Serif CJK SC",serif' font-weight="bold" textLength="23" lengthAdjust="spacingAndGlyphs" stroke="#00ff00" stroke-width="0.3">技学院</text>
<text filter="url(#crisp)" x="739.5" y="532" font-size="10" fill="#00ff00" text-anchor="start" font-family='"Liberation Serif","Noto Serif CJK SC",serif' font-weight="bold" textLength="34" lengthAdjust="spacingAndGlyphs" stroke="#00ff00" stroke-width="0.3">06机设4班</text>
<text filter="url(#crisp)" x="551" y="529.5" font-size="6.6" fill="#00ff00" text-anchor="start" font-family='"Liberation Sans","Noto Sans CJK SC",sans-serif' font-weight="bold" textLength="9" lengthAdjust="spacingAndGlyphs" stroke="#00ff00" stroke-width="0.12">标记</text>
<text filter="url(#crisp)" x="561" y="529.5" font-size="6.6" fill="#00ff00" text-anchor="start" font-family='"Liberation Sans","Noto Sans CJK SC",sans-serif' font-weight="bold" textLength="8.5" lengthAdjust="spacingAndGlyphs" stroke="#00ff00" stroke-width="0.12">处数</text>
<text filter="url(#crisp)" x="572" y="529.5" font-size="6.6" fill="#00ff00" text-anchor="start" font-family='"Liberation Sans","Noto Sans CJK SC",sans-serif' font-weight="bold" textLength="22" lengthAdjust="spacingAndGlyphs" stroke="#00ff00" stroke-width="0.12">更改文件号</text>
<text filter="url(#crisp)" x="601" y="529.5" font-size="6.6" fill="#00ff00" text-anchor="start" font-family='"Liberation Sans","Noto Sans CJK SC",sans-serif' font-weight="bold" textLength="11" lengthAdjust="spacingAndGlyphs" stroke="#00ff00" stroke-width="0.12">签字</text>
<text filter="url(#crisp)" x="617" y="529.5" font-size="6.6" fill="#00ff00" text-anchor="start" font-family='"Liberation Sans","Noto Sans CJK SC",sans-serif' font-weight="bold" textLength="11" lengthAdjust="spacingAndGlyphs" stroke="#00ff00" stroke-width="0.12">日期</text>
<text filter="url(#crisp)" x="554.5" y="536" font-size="6.6" fill="#00ff00" text-anchor="start" font-family='"Liberation Sans","Noto Sans CJK SC",sans-serif' font-weight="bold" textLength="11" lengthAdjust="spacingAndGlyphs" stroke="#00ff00" stroke-width="0.12">设计</text>
<text filter="url(#crisp)" x="574.5" y="536" font-size="6.6" fill="#00ff00" text-anchor="start" font-family='"Liberation Sans","Noto Sans CJK SC",sans-serif' font-weight="bold" textLength="9" lengthAdjust="spacingAndGlyphs" stroke="#00ff00" stroke-width="0.12">王伟</text>
<text filter="url(#crisp)" x="593" y="536" font-size="6.6" fill="#00ff00" text-anchor="start" font-family='"Liberation Sans","Noto Sans CJK SC",sans-serif' font-weight="bold" textLength="14" lengthAdjust="spacingAndGlyphs" stroke="#00ff00" stroke-width="0.12">标准化</text>
<text filter="url(#crisp)" x="554.5" y="543" font-size="6.6" fill="#00ff00" text-anchor="start" font-family='"Liberation Sans","Noto Sans CJK SC",sans-serif' font-weight="bold" textLength="11" lengthAdjust="spacingAndGlyphs" stroke="#00ff00" stroke-width="0.12">审核</text>
<text filter="url(#crisp)" x="574.5" y="543" font-size="6.6" fill="#00ff00" text-anchor="start" font-family='"Liberation Sans","Noto Sans CJK SC",sans-serif' font-weight="bold" textLength="9" lengthAdjust="spacingAndGlyphs" stroke="#00ff00" stroke-width="0.12">审核</text>
<text filter="url(#crisp)" x="554.5" y="550" font-size="6.6" fill="#00ff00" text-anchor="start" font-family='"Liberation Sans","Noto Sans CJK SC",sans-serif' font-weight="bold" textLength="8" lengthAdjust="spacingAndGlyphs" stroke="#00ff00" stroke-width="0.12">批准</text>
<text filter="url(#crisp)" x="554.5" y="556.5" font-size="6.6" fill="#00ff00" text-anchor="start" font-family='"Liberation Sans","Noto Sans CJK SC",sans-serif' font-weight="bold" textLength="8" lengthAdjust="spacingAndGlyphs" stroke="#00ff00" stroke-width="0.12">工艺</text>
<text filter="url(#crisp)" x="595" y="556.5" font-size="6.6" fill="#00ff00" text-anchor="start" font-family='"Liberation Sans","Noto Sans CJK SC",sans-serif' font-weight="bold" textLength="10.5" lengthAdjust="spacingAndGlyphs" stroke="#00ff00" stroke-width="0.12">日期</text>
<text filter="url(#crisp)" x="638" y="537.5" font-size="6.6" fill="#00ff00" text-anchor="start" font-family='"Liberation Sans","Noto Sans CJK SC",sans-serif' font-weight="bold" textLength="25" lengthAdjust="spacingAndGlyphs" stroke="#00ff00" stroke-width="0.12">图样标记</text>
<text filter="url(#crisp)" x="674" y="537.5" font-size="6.6" fill="#00ff00" text-anchor="start" font-family='"Liberation Sans","Noto Sans CJK SC",sans-serif' font-weight="bold" textLength="11.5" lengthAdjust="spacingAndGlyphs" stroke="#00ff00" stroke-width="0.12">重量</text>
<text filter="url(#crisp)" x="695" y="537.5" font-size="6.6" fill="#00ff00" text-anchor="start" font-family='"Liberation Sans","Noto Sans CJK SC",sans-serif' font-weight="bold" textLength="10.5" lengthAdjust="spacingAndGlyphs" stroke="#00ff00" stroke-width="0.12">比例</text>
<text filter="url(#crisp)" x="699" y="547" font-size="6" fill="#00ff00" text-anchor="start" font-family='"Liberation Sans","Noto Sans CJK SC",sans-serif' font-weight="bold" textLength="6" lengthAdjust="spacingAndGlyphs" stroke="#00ff00" stroke-width="0.12">1:3</text>
<text filter="url(#crisp)" x="638.5" y="556.5" font-size="6.6" fill="#00ff00" text-anchor="start" font-family='"Liberation Sans","Noto Sans CJK SC",sans-serif' font-weight="bold" textLength="5" lengthAdjust="spacingAndGlyphs" stroke="#00ff00" stroke-width="0.12">共</text>
<text filter="url(#crisp)" x="658.5" y="556.5" font-size="6.6" fill="#00ff00" text-anchor="start" font-family='"Liberation Sans","Noto Sans CJK SC",sans-serif' font-weight="bold" textLength="5" lengthAdjust="spacingAndGlyphs" stroke="#00ff00" stroke-width="0.12">页</text>
<text filter="url(#crisp)" x="678.5" y="556.5" font-size="6.6" fill="#00ff00" text-anchor="start" font-family='"Liberation Sans","Noto Sans CJK SC",sans-serif' font-weight="bold" textLength="5" lengthAdjust="spacingAndGlyphs" stroke="#00ff00" stroke-width="0.12">第</text>
<text filter="url(#crisp)" x="698.5" y="556.5" font-size="6.6" fill="#00ff00" text-anchor="start" font-family='"Liberation Sans","Noto Sans CJK SC",sans-serif' font-weight="bold" textLength="5" lengthAdjust="spacingAndGlyphs" stroke="#00ff00" stroke-width="0.12">页</text>
</svg>
</body></html>
